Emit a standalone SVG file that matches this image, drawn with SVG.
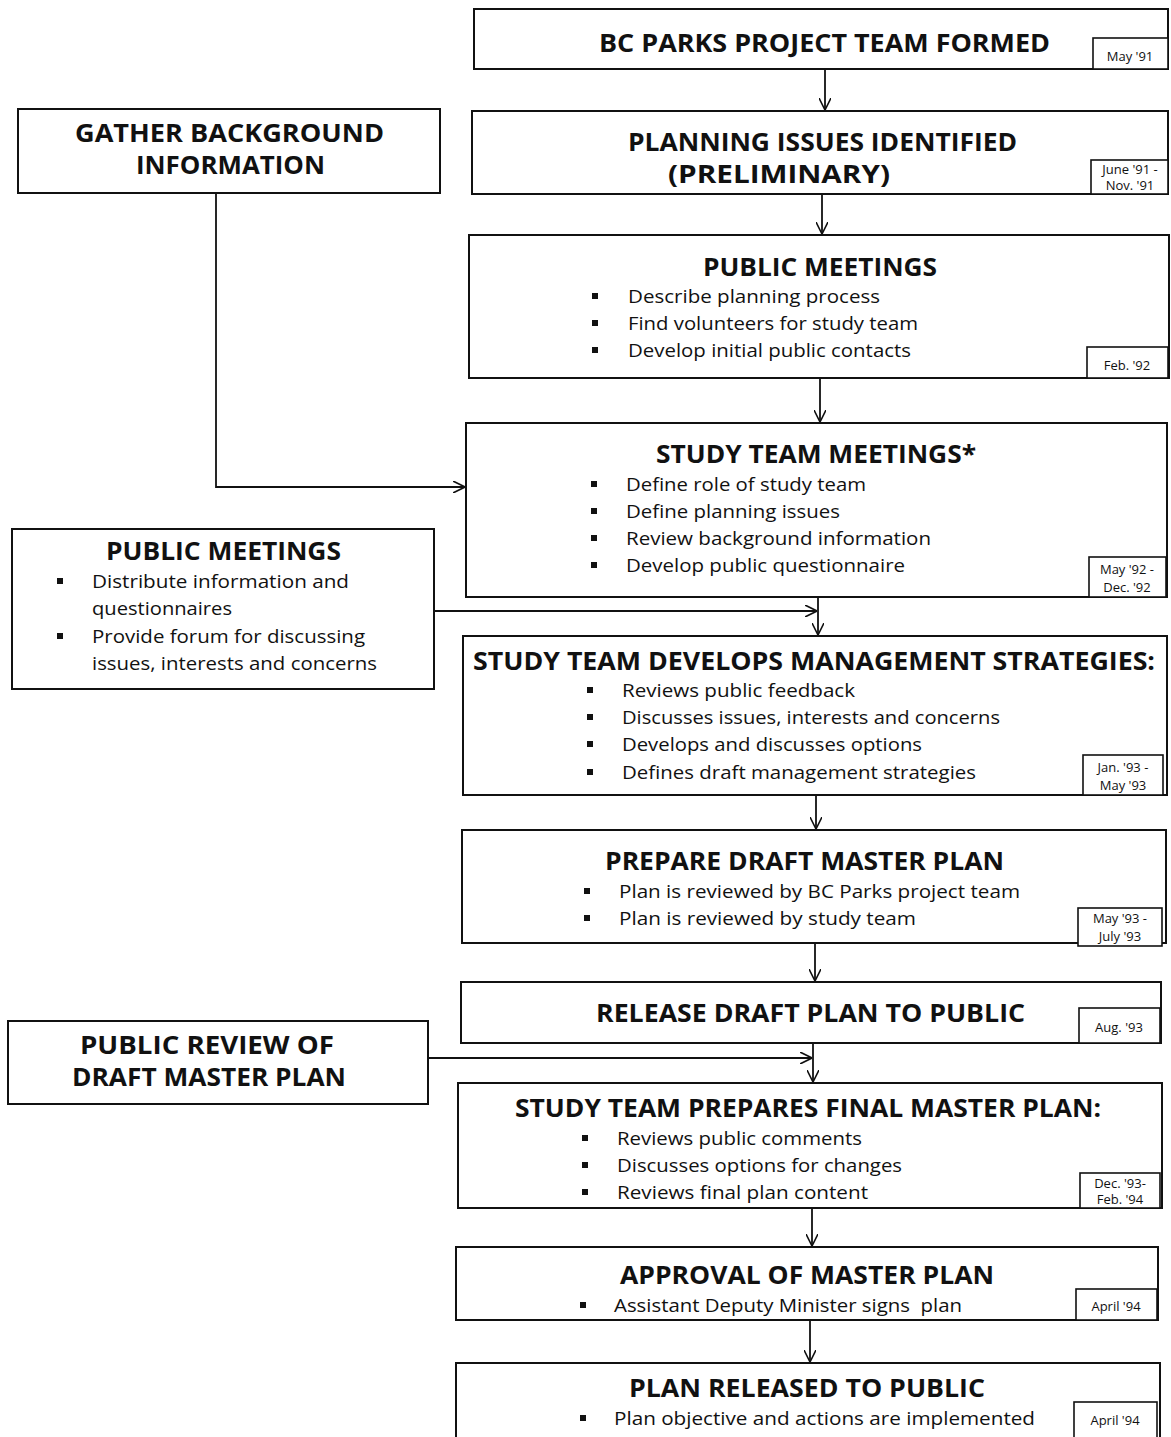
<svg xmlns="http://www.w3.org/2000/svg" width="1171" height="1437" viewBox="0 0 1171 1437">
<style>
.box{fill:#fff;stroke:#111;stroke-width:2}
.dbox{fill:#fff;stroke:#111;stroke-width:1.6}
.h{font-family:"Open Sans","Liberation Sans",sans-serif;font-weight:bold;font-size:25px;fill:#111}
.t{font-family:"Open Sans","Liberation Sans",sans-serif;font-size:19px;fill:#111}
.d{font-family:"Open Sans","Liberation Sans",sans-serif;font-size:13px;fill:#111;text-anchor:middle}
.b{fill:#111}
.c{fill:none;stroke:#111;stroke-width:1.8}
</style>
<defs>
<marker id="ah" viewBox="0 0 12 12" refX="12" refY="6" markerWidth="12" markerHeight="12" markerUnits="userSpaceOnUse" orient="auto">
<path d="M0,0 L12,6 L0,12" fill="none" stroke="#111" stroke-width="1.6"/>
</marker>
</defs>
<rect width="1171" height="1437" fill="#fff"/>

<g id="connectors">
<path class="c" d="M825,70 V110" marker-end="url(#ah)"/>
<path class="c" d="M822,194 V234" marker-end="url(#ah)"/>
<path class="c" d="M820,378 V422" marker-end="url(#ah)"/>
<path class="c" d="M216,193 V487 H465" marker-end="url(#ah)"/>
<path class="c" d="M818,597 V635" marker-end="url(#ah)"/>
<path class="c" d="M434,611 H817" marker-end="url(#ah)"/>
<path class="c" d="M816,795 V829" marker-end="url(#ah)"/>
<path class="c" d="M815,943 V981" marker-end="url(#ah)"/>
<path class="c" d="M813,1043 V1082" marker-end="url(#ah)"/>
<path class="c" d="M428,1058 H812" marker-end="url(#ah)"/>
<path class="c" d="M812,1208 V1246" marker-end="url(#ah)"/>
<path class="c" d="M810,1320 V1362" marker-end="url(#ah)"/>
</g>

<g id="n1">
<rect class="box" x="474" y="9" width="694" height="60"/>
<text class="h" x="599" y="52" textLength="451" lengthAdjust="spacingAndGlyphs">BC PARKS PROJECT TEAM FORMED</text>
<rect class="dbox" x="1093" y="38" width="75" height="31"/>
<text class="d" x="1130" y="61">May '91</text>
</g>

<g id="n2">
<rect class="box" x="472" y="111" width="696" height="83"/>
<text class="h" x="628" y="151" textLength="389" lengthAdjust="spacingAndGlyphs">PLANNING ISSUES IDENTIFIED</text>
<text class="h" x="668" y="183" textLength="222" lengthAdjust="spacingAndGlyphs">(PRELIMINARY)</text>
<rect class="dbox" x="1091" y="160" width="77" height="34"/>
<text class="d" x="1130" y="174">June '91 -</text>
<text class="d" x="1130" y="190">Nov. '91</text>
</g>

<g id="n3">
<rect class="box" x="469" y="235" width="700" height="143"/>
<text class="h" x="703" y="276" textLength="234" lengthAdjust="spacingAndGlyphs">PUBLIC MEETINGS</text>
<rect class="b" x="592" y="293" width="6" height="6"/>
<text class="t" x="628" y="303" textLength="252" lengthAdjust="spacingAndGlyphs">Describe planning process</text>
<rect class="b" x="592" y="320" width="6" height="6"/>
<text class="t" x="628" y="330" textLength="290" lengthAdjust="spacingAndGlyphs">Find volunteers for study team</text>
<rect class="b" x="592" y="347" width="6" height="6"/>
<text class="t" x="628" y="357" textLength="283" lengthAdjust="spacingAndGlyphs">Develop initial public contacts</text>
<rect class="dbox" x="1087" y="347" width="81" height="31"/>
<text class="d" x="1127" y="370">Feb. '92</text>
</g>

<g id="n4">
<rect class="box" x="466" y="423" width="701" height="174"/>
<text class="h" x="656" y="463" textLength="320" lengthAdjust="spacingAndGlyphs">STUDY TEAM MEETINGS*</text>
<rect class="b" x="591" y="481" width="6" height="6"/>
<text class="t" x="626" y="491" textLength="240" lengthAdjust="spacingAndGlyphs">Define role of study team</text>
<rect class="b" x="591" y="508" width="6" height="6"/>
<text class="t" x="626" y="518" textLength="214" lengthAdjust="spacingAndGlyphs">Define planning issues</text>
<rect class="b" x="591" y="535" width="6" height="6"/>
<text class="t" x="626" y="545" textLength="305" lengthAdjust="spacingAndGlyphs">Review background information</text>
<rect class="b" x="591" y="562" width="6" height="6"/>
<text class="t" x="626" y="572" textLength="279" lengthAdjust="spacingAndGlyphs">Develop public questionnaire</text>
<rect class="dbox" x="1089" y="557" width="77" height="40"/>
<text class="d" x="1127" y="574">May '92 -</text>
<text class="d" x="1127" y="592">Dec. '92</text>
</g>

<g id="n5">
<rect class="box" x="18" y="109" width="422" height="84"/>
<text class="h" x="75" y="142" textLength="309" lengthAdjust="spacingAndGlyphs">GATHER BACKGROUND</text>
<text class="h" x="136" y="174" textLength="189" lengthAdjust="spacingAndGlyphs">INFORMATION</text>
</g>

<g id="n6">
<rect class="box" x="12" y="529" width="422" height="160"/>
<text class="h" x="106" y="560" textLength="235" lengthAdjust="spacingAndGlyphs">PUBLIC MEETINGS</text>
<rect class="b" x="57" y="578" width="6" height="6"/>
<text class="t" x="92" y="588" textLength="257" lengthAdjust="spacingAndGlyphs">Distribute information and</text>
<text class="t" x="92" y="615" textLength="140" lengthAdjust="spacingAndGlyphs">questionnaires</text>
<rect class="b" x="57" y="633" width="6" height="6"/>
<text class="t" x="92" y="643" textLength="273" lengthAdjust="spacingAndGlyphs">Provide forum for discussing</text>
<text class="t" x="92" y="670" textLength="285" lengthAdjust="spacingAndGlyphs">issues, interests and concerns</text>
</g>

<g id="n7">
<rect class="box" x="463" y="636" width="704" height="159"/>
<text class="h" x="473" y="670" textLength="682" lengthAdjust="spacingAndGlyphs">STUDY TEAM DEVELOPS MANAGEMENT STRATEGIES:</text>
<rect class="b" x="587" y="687" width="6" height="6"/>
<text class="t" x="622" y="697" textLength="233" lengthAdjust="spacingAndGlyphs">Reviews public feedback</text>
<rect class="b" x="587" y="714" width="6" height="6"/>
<text class="t" x="622" y="724" textLength="378" lengthAdjust="spacingAndGlyphs">Discusses issues, interests and concerns</text>
<rect class="b" x="587" y="741" width="6" height="6"/>
<text class="t" x="622" y="751" textLength="300" lengthAdjust="spacingAndGlyphs">Develops and discusses options</text>
<rect class="b" x="587" y="769" width="6" height="6"/>
<text class="t" x="622" y="779" textLength="354" lengthAdjust="spacingAndGlyphs">Defines draft management strategies</text>
<rect class="dbox" x="1083" y="755" width="80" height="40"/>
<text class="d" x="1123" y="772">Jan. '93 -</text>
<text class="d" x="1123" y="790">May '93</text>
</g>

<g id="n8">
<rect class="box" x="462" y="830" width="704" height="113"/>
<text class="h" x="605" y="870" textLength="399" lengthAdjust="spacingAndGlyphs">PREPARE DRAFT MASTER PLAN</text>
<rect class="b" x="584" y="888" width="6" height="6"/>
<text class="t" x="619" y="898" textLength="401" lengthAdjust="spacingAndGlyphs">Plan is reviewed by BC Parks project team</text>
<rect class="b" x="584" y="915" width="6" height="6"/>
<text class="t" x="619" y="925" textLength="297" lengthAdjust="spacingAndGlyphs">Plan is reviewed by study team</text>
<rect class="dbox" x="1078" y="908" width="84" height="38"/>
<text class="d" x="1120" y="923">May '93 -</text>
<text class="d" x="1120" y="941">July '93</text>
</g>

<g id="n9">
<rect class="box" x="461" y="982" width="700" height="61"/>
<text class="h" x="596" y="1022" textLength="429" lengthAdjust="spacingAndGlyphs">RELEASE DRAFT PLAN TO PUBLIC</text>
<rect class="dbox" x="1079" y="1008" width="81" height="35"/>
<text class="d" x="1119" y="1032">Aug. '93</text>
</g>

<g id="n10">
<rect class="box" x="8" y="1021" width="420" height="83"/>
<text class="h" x="80" y="1054" textLength="254" lengthAdjust="spacingAndGlyphs">PUBLIC REVIEW OF</text>
<text class="h" x="72" y="1086" textLength="274" lengthAdjust="spacingAndGlyphs">DRAFT MASTER PLAN</text>
</g>

<g id="n11">
<rect class="box" x="458" y="1083" width="704" height="125"/>
<text class="h" x="515" y="1117" textLength="586" lengthAdjust="spacingAndGlyphs">STUDY TEAM PREPARES FINAL MASTER PLAN:</text>
<rect class="b" x="582" y="1135" width="6" height="6"/>
<text class="t" x="617" y="1145" textLength="245" lengthAdjust="spacingAndGlyphs">Reviews public comments</text>
<rect class="b" x="582" y="1162" width="6" height="6"/>
<text class="t" x="617" y="1172" textLength="285" lengthAdjust="spacingAndGlyphs">Discusses options for changes</text>
<rect class="b" x="582" y="1189" width="6" height="6"/>
<text class="t" x="617" y="1199" textLength="251" lengthAdjust="spacingAndGlyphs">Reviews final plan content</text>
<rect class="dbox" x="1080" y="1173" width="80" height="35"/>
<text class="d" x="1120" y="1188">Dec. '93-</text>
<text class="d" x="1120" y="1204">Feb. '94</text>
</g>

<g id="n12">
<rect class="box" x="456" y="1247" width="702" height="73"/>
<text class="h" x="620" y="1284" textLength="374" lengthAdjust="spacingAndGlyphs">APPROVAL OF MASTER PLAN</text>
<rect class="b" x="580" y="1302" width="6" height="6"/>
<text class="t" x="614" y="1312" textLength="348" lengthAdjust="spacingAndGlyphs" xml:space="preserve">Assistant Deputy Minister signs  plan</text>
<rect class="dbox" x="1076" y="1289" width="81" height="31"/>
<text class="d" x="1116" y="1311">April '94</text>
</g>

<g id="n13">
<rect class="box" x="456" y="1363" width="704" height="80"/>
<text class="h" x="629" y="1397" textLength="356" lengthAdjust="spacingAndGlyphs">PLAN RELEASED TO PUBLIC</text>
<rect class="b" x="580" y="1415" width="6" height="6"/>
<text class="t" x="614" y="1425" textLength="421" lengthAdjust="spacingAndGlyphs">Plan objective and actions are implemented</text>
<rect class="dbox" x="1074" y="1402" width="83" height="41"/>
<text class="d" x="1115" y="1425">April '94</text>
</g>
</svg>
